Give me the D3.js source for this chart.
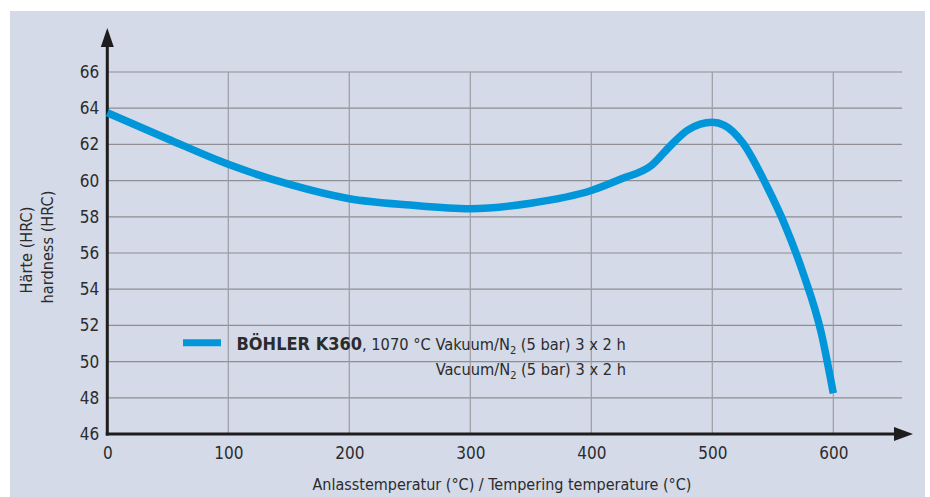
<!DOCTYPE html>
<html>
<head>
<meta charset="utf-8">
<script src="https://cdn.jsdelivr.net/npm/d3@7"></script>
<style>
  html, body { margin: 0; padding: 0; background: #ffffff; }
  svg { display: block; }
  text { font-family: "Liberation Sans Narrow", "DejaVu Sans Condensed", "Open Sans", sans-serif; fill: #2b2b2e; }
</style>
</head>
<body>
<svg id="chart" width="930" height="497"></svg>
<script>
// Tempering curve of BÖHLER K360: temperature (°C) vs. hardness (HRC)
const temperatures = [0, 50, 100, 150, 200, 250, 300, 350, 400, 425, 450, 465, 480, 500, 510, 525, 545, 560, 575, 590, 600];
const hardness     = [63.75, 62.3, 60.9, 59.8, 59.0, 58.65, 58.45, 58.75, 59.45, 60.1, 60.85, 61.9, 62.8, 63.22, 63.05, 62.1, 59.7, 57.55, 54.9, 51.6, 48.25];

const xTicks = [0, 100, 200, 300, 400, 500, 600];
const yTicks = [46, 48, 50, 52, 54, 56, 58, 60, 62, 64, 66];

const seriesName = "BÖHLER K360";
const xTitle = "Anlasstemperatur (°C) / Tempering temperature (°C)";
const yTitleDe = "Härte (HRC)";
const yTitleEn = "hardness (HRC)";

const svg = d3.select("#chart");

const x = d3.scaleLinear().domain([0, 600]).range([107.3, 833.3]);
const y = d3.scaleLinear().domain([46, 66]).range([434, 72]);
const gridRight = 902;

// panel background
svg.append("rect").attr("x", 10).attr("y", 11).attr("width", 915).attr("height", 486).attr("fill", "#d4dae7");

// horizontal grid
svg.append("g").selectAll("line").data(yTicks.filter(v => v > 46)).join("line")
  .attr("x1", x(0)).attr("x2", gridRight)
  .attr("y1", d => y(d)).attr("y2", d => y(d))
  .attr("stroke", "#8e8e94").attr("stroke-width", 1.2);

// vertical grid
svg.append("g").selectAll("line").data(xTicks.filter(v => v > 0)).join("line")
  .attr("x1", d => x(d)).attr("x2", d => x(d))
  .attr("y1", y(66)).attr("y2", y(46))
  .attr("stroke", "#9c9ca4").attr("stroke-width", 1.2);

// tick labels via d3 axes
const yAxis = svg.append("g").attr("transform", `translate(${x(0)},0)`)
  .call(d3.axisLeft(y).tickValues(yTicks).tickSize(0).tickPadding(8));
yAxis.select(".domain").remove();
yAxis.selectAll("text").attr("font-size", 17).attr("font-family", null).attr("fill", "#2b2b2e");

const xAxis = svg.append("g").attr("transform", `translate(0,${y(46)})`)
  .call(d3.axisBottom(x).tickValues(xTicks).tickSize(0).tickPadding(13));
xAxis.select(".domain").remove();
xAxis.selectAll("text").attr("font-size", 17).attr("font-family", null).attr("fill", "#2b2b2e");

// axis lines with arrow heads
const axisColor = "#1f1c1d";
svg.append("line").attr("x1", x(0)).attr("x2", x(0)).attr("y1", y(46) + 1.5).attr("y2", 44)
  .attr("stroke", axisColor).attr("stroke-width", 3);
svg.append("path").attr("d", `M${x(0) - 6.5},47 L${x(0)},28 L${x(0) + 6.5},47 Z`).attr("fill", axisColor);
svg.append("line").attr("x1", x(0) - 1.5).attr("x2", 898).attr("y1", y(46)).attr("y2", y(46))
  .attr("stroke", axisColor).attr("stroke-width", 3);
svg.append("path").attr("d", `M894,${y(46) - 7} L913,${y(46)} L894,${y(46) + 7} Z`).attr("fill", axisColor);

// hardness curve
const line = d3.line()
  .x((d, i) => x(temperatures[i]))
  .y(d => y(d))
  .curve(d3.curveMonotoneX);
svg.append("path").datum(hardness)
  .attr("d", line)
  .attr("fill", "none").attr("stroke", "#0096d9").attr("stroke-width", 7.5)
  .attr("stroke-linecap", "butt").attr("stroke-linejoin", "round");

// legend
svg.append("line").attr("x1", 183).attr("x2", 221).attr("y1", 342.7).attr("y2", 342.7)
  .attr("stroke", "#0096d9").attr("stroke-width", 7);

const leg1 = svg.append("text").attr("x", 236.5).attr("y", 350).attr("font-size", 16.3);
leg1.append("tspan").attr("font-weight", "bold").attr("font-size", 18).text(seriesName);
leg1.append("tspan").text(", 1070 °C Vakuum/N");
leg1.append("tspan").attr("font-size", 11).attr("dy", 4).text("2");
leg1.append("tspan").attr("dy", -4).text(" (5 bar) 3 x 2 h");

const leg2 = svg.append("text").attr("x", 626).attr("y", 375).attr("font-size", 16.3).attr("text-anchor", "end");
leg2.append("tspan").text("Vacuum/N");
leg2.append("tspan").attr("font-size", 11).attr("dy", 4).text("2");
leg2.append("tspan").attr("dy", -4).text(" (5 bar) 3 x 2 h");

// axis titles
svg.append("text").attr("x", 502).attr("y", 490).attr("text-anchor", "middle").attr("font-size", 16).text(xTitle);
svg.append("text").attr("transform", "translate(32,250) rotate(-90)").attr("text-anchor", "middle").attr("font-size", 16.2).text(yTitleDe);
svg.append("text").attr("transform", "translate(53,247) rotate(-90)").attr("text-anchor", "middle").attr("font-size", 16.2).text(yTitleEn);
</script>
</body>
</html>
